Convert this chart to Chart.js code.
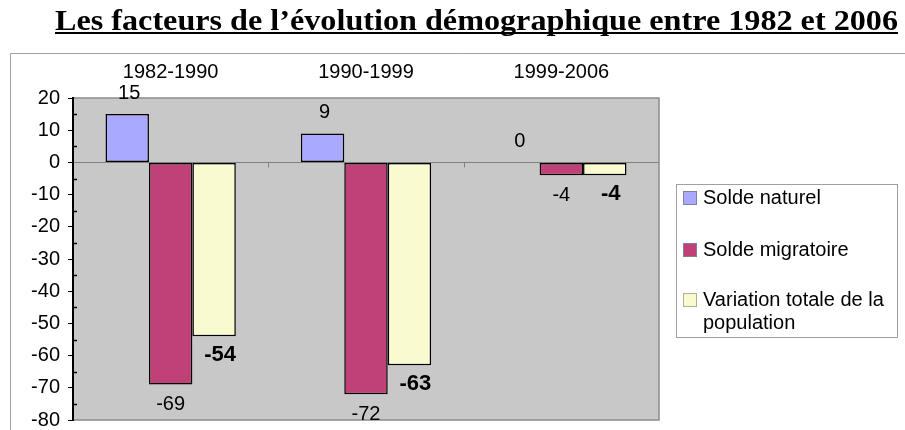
<!DOCTYPE html>
<html>
<head>
<meta charset="utf-8">
<script src="https://cdn.jsdelivr.net/npm/chart.js@4"></script>
<style>
  html, body { margin: 0; padding: 0; background: #ffffff; }
  #chart { display: block; }
</style>
</head>
<body>
<canvas id="chart" width="905" height="430"></canvas>
<script>
// Data
const titleText = 'Les facteurs de l’évolution démographique entre 1982 et 2006';
const categories = ['1982-1990', '1990-1999', '1999-2006'];
const soldeNaturel = [15, 9, 0];
const soldeMigratoire = [-69, -72, -4];
const variationTotale = [-54, -63, -4];
const seriesNames = ['Solde naturel', 'Solde migratoire', 'Variation totale de la population'];
const yMin = -80;
const yMax = 20;
const yStep = 10;

// Colours (old Excel palette look)
const colors = ['#A9A9FF', '#C04078', '#FAFAD0'];
const plotGray = '#C8C8C8';
const font = "'Liberation Sans', Arial, sans-serif";

// Page decorations: title, frame, plot background
const backgroundPlugin = {
    id: 'background',
    beforeDraw(chart) {
        const ctx = chart.ctx;
        const a = chart.chartArea;
        ctx.save();
        ctx.fillStyle = '#ffffff';
        ctx.fillRect(0, 0, chart.width, chart.height);

        // outer frame (top + left)
        ctx.strokeStyle = '#a0a0a0';
        ctx.lineWidth = 1;
        ctx.beginPath();
        ctx.moveTo(10.5, chart.height);
        ctx.lineTo(10.5, 53.5);
        ctx.lineTo(chart.width, 53.5);
        ctx.stroke();

        // plot area
        ctx.fillStyle = plotGray;
        ctx.fillRect(a.left, a.top, a.right - a.left, a.bottom - a.top);
        ctx.strokeStyle = '#8c8c8c';
        ctx.lineWidth = 1.5;
        ctx.strokeRect(a.left, a.top, a.right - a.left, a.bottom - a.top);

        // title, underlined, stretched to the width seen in the picture
        ctx.fillStyle = '#000';
        ctx.font = "bold 30px 'Liberation Serif', 'Times New Roman', serif";
        ctx.textAlign = 'left';
        ctx.textBaseline = 'alphabetic';
        const tLeft = 55, tWidth = 843;
        const w = ctx.measureText(titleText).width;
        ctx.save();
        ctx.translate(tLeft, 0);
        ctx.scale(tWidth / w, 1);
        ctx.fillText(titleText, 0, 30);
        ctx.restore();
        ctx.fillRect(tLeft, 32, tWidth, 2);
        ctx.restore();
    }
};

// Minor ticks on y axis and category ticks on the zero line
const ticksPlugin = {
    id: 'extraTicks',
    afterDatasetsDraw(chart) {
        const ctx = chart.ctx;
        const y = chart.scales.y;
        const x = chart.scales.x;
        ctx.save();
        ctx.strokeStyle = '#000';
        ctx.lineWidth = 1.5;
        for (let v = yMin + yStep / 2; v < yMax; v += yStep) {
            const py = Math.round(y.getPixelForValue(v)) + 0.5;
            ctx.beginPath();
            ctx.moveTo(y.right, py);
            ctx.lineTo(y.right + 4, py);
            ctx.stroke();
        }
        const y0 = y.getPixelForValue(0);
        ctx.strokeStyle = '#808080';
        ctx.lineWidth = 1;
        for (let i = 0; i < categories.length - 1; i++) {
            const px = Math.round((x.getPixelForValue(i) + x.getPixelForValue(i + 1)) / 2) + 0.5;
            ctx.beginPath();
            ctx.moveTo(px, y0);
            ctx.lineTo(px, y0 + 5);
            ctx.stroke();
        }
        ctx.restore();
    }
};

// Value labels
const labelsPlugin = {
    id: 'valueLabels',
    afterDatasetsDraw(chart) {
        const ctx = chart.ctx;
        ctx.save();
        ctx.fillStyle = '#000';
        ctx.textAlign = 'center';
        ctx.textBaseline = 'middle';
        chart.data.datasets.forEach((ds, di) => {
            const meta = chart.getDatasetMeta(di);
            meta.data.forEach((bar, i) => {
                const v = ds.data[i];
                if (di === 0) {
                    ctx.font = '20px ' + font;
                    ctx.fillText(String(v), bar.x + 2, bar.y - 21);
                } else if (di === 1) {
                    ctx.font = '20px ' + font;
                    ctx.fillText(String(v), bar.x, bar.y + 20);
                } else {
                    ctx.font = 'bold 22px ' + font;
                    ctx.fillText(String(v), bar.x + 6, bar.y + 19);
                }
            });
        });
        ctx.restore();
    }
};

// Legend box on the right
const legendPlugin = {
    id: 'boxLegend',
    afterDraw(chart) {
        const ctx = chart.ctx;
        const a = chart.chartArea;
        const left = a.right + 17;
        const top = 184;
        const width = 221;
        const height = 153;
        ctx.save();
        ctx.fillStyle = '#ffffff';
        ctx.fillRect(left, top, width, height);
        ctx.strokeStyle = '#a0a0a0';
        ctx.lineWidth = 1;
        ctx.strokeRect(left + 0.5, top + 0.5, width, height);

        ctx.font = '20px ' + font;
        ctx.textBaseline = 'middle';
        ctx.textAlign = 'left';
        const rowY = [198, 250, 300];
        seriesNames.forEach((name, i) => {
            const cy = rowY[i];
            ctx.fillStyle = colors[i];
            ctx.fillRect(left + 7, cy - 7, 14, 14);
            ctx.strokeStyle = i === 2 ? '#b0b090' : '#8080a0';
            ctx.strokeRect(left + 7.5, cy - 6.5, 13, 13);
            ctx.fillStyle = '#000';
            // wrap long names to fit the box
            const maxW = width - 34;
            const words = name.split(' ');
            let line = '';
            let ly = cy;
            words.forEach(wd => {
                const test = line ? line + ' ' + wd : wd;
                if (ctx.measureText(test).width > maxW && line) {
                    ctx.fillText(line, left + 27, ly);
                    line = wd;
                    ly += 23;
                } else {
                    line = test;
                }
            });
            ctx.fillText(line, left + 27, ly);
        });
        ctx.restore();
    }
};

const ctx = document.getElementById('chart').getContext('2d');

new Chart(ctx, {
    type: 'bar',
    data: {
        labels: categories,
        datasets: [
            { label: seriesNames[0], data: soldeNaturel, backgroundColor: colors[0] },
            { label: seriesNames[1], data: soldeMigratoire, backgroundColor: colors[1] },
            { label: seriesNames[2], data: variationTotale, backgroundColor: colors[2] }
        ].map(ds => Object.assign(ds, {
            borderColor: '#000',
            borderWidth: 1.5,
            borderSkipped: false,
            categoryPercentage: 0.667,
            barPercentage: 1.0
        }))
    },
    options: {
        responsive: false,
        animation: false,
        layout: {
            padding: { top: 53, left: 10, right: 246, bottom: 10 }
        },
        scales: {
            x: {
                position: 'top',
                offset: true,
                grid: { display: false },
                border: { display: false },
                ticks: {
                    color: '#000',
                    font: { size: 20, family: font },
                    padding: 6
                },
                afterFit(scale) { scale.height = 45; }
            },
            y: {
                min: yMin,
                max: yMax,
                ticks: {
                    stepSize: yStep,
                    color: '#000',
                    font: { size: 20, family: font },
                    padding: 8
                },
                grid: {
                    color: c => (c.tick && c.tick.value === 0) ? '#808080' : 'rgba(0,0,0,0)',
                    tickColor: '#000',
                    tickLength: 5,
                    lineWidth: 1
                },
                border: { color: '#000', width: 2 },
                afterFit(scale) {
                    scale.width = 63;
                    scale.paddingTop = 0;
                    scale.paddingBottom = 0;
                }
            }
        },
        plugins: {
            legend: { display: false },
            tooltip: { enabled: false }
        }
    },
    plugins: [backgroundPlugin, ticksPlugin, labelsPlugin, legendPlugin]
});
</script>
</body>
</html>
